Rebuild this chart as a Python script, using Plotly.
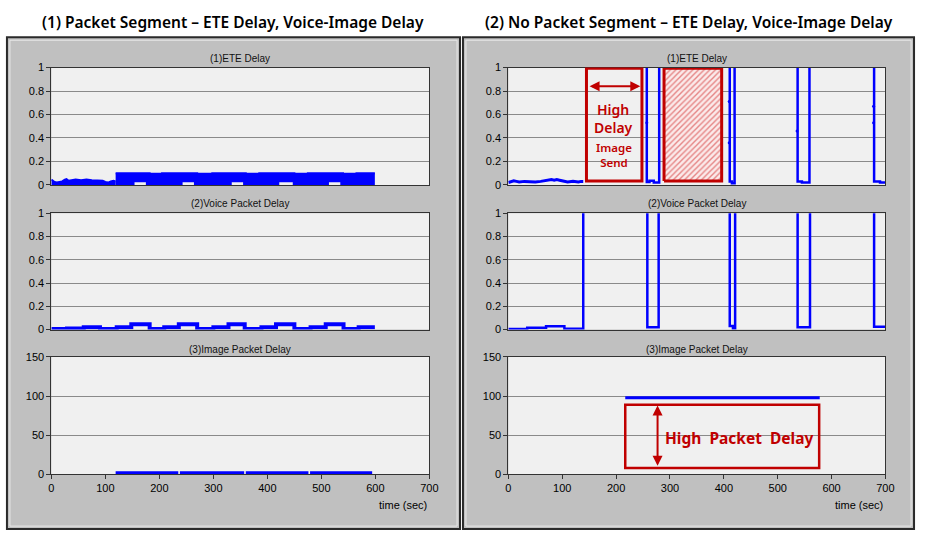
import plotly.graph_objects as go

# ---------------- data ----------------
HIGH = 10.0  # off-scale delay value (clipped at top of the 0-1 axis)

# (1) Packet Segment - ETE delay: noisy start
p_ete_t0 = [0, 3, 6, 10, 15, 20, 25, 28, 32, 38, 45, 55, 65, 75, 85, 95, 100, 105, 110, 115, 119]
p_ete_v0 = [0.045, 0.035, 0.025, 0.02, 0.025, 0.03, 0.045, 0.05, 0.035, 0.04, 0.045, 0.04,
            0.045, 0.04, 0.04, 0.035, 0.025, 0.02, 0.03, 0.035, 0.03]
# ETE dense band (upper / lower envelope)
p_band_t = [119, 154, 175, 182, 205, 243, 264, 270, 298, 334, 355, 360, 385, 422, 447, 450,
            475, 514, 535, 540, 565, 599]
p_band_hi = [0.1, 0.1, 0.1, 0.095, 0.1, 0.1, 0.1, 0.095, 0.1, 0.1, 0.1, 0.095, 0.1, 0.1, 0.1,
             0.095, 0.1, 0.1, 0.1, 0.095, 0.1, 0.1]
p_band_lo = [0, 0.022, 0, 0, 0, 0.022, 0, 0, 0, 0.022, 0, 0, 0, 0.022, 0, 0, 0, 0.022, 0, 0, 0, 0]
# voice delay (steps)
p_voice_t = [0, 29, 60, 90, 121, 148, 182, 209, 236, 270, 300, 328, 358, 389, 416, 450, 480,
             508, 541, 569, 599]
p_voice_v = [0.005, 0.01, 0.02, 0.005, 0.02, 0.045, 0.005, 0.02, 0.045, 0.005, 0.02, 0.045,
             0.005, 0.02, 0.045, 0.005, 0.02, 0.045, 0.005, 0.02, 0.02]
# image delay
p_img_t = [119, 235, None, 238, 357, None, 360, 476, None, 479, 594]
p_img_v = [2, 2, None, 2, 2, None, 2, 2, None, 2, 2]

# (2) No Packet Segment - ETE delay
n_ete_t0 = [0, 5, 10, 15, 20, 30, 40, 50, 60, 70, 75, 80, 85, 90, 95, 100, 110, 120, 130, 135, 139]
n_ete_v0 = [0.02, 0.03, 0.035, 0.03, 0.025, 0.03, 0.025, 0.025, 0.03, 0.035, 0.04, 0.045, 0.04,
            0.045, 0.04, 0.035, 0.025, 0.03, 0.025, 0.03, 0.03]
n_ete_t = [139, 257, 262, 270, 280, 411, 415, 420, 537, 545, 559, 679, 690, 700]
n_ete_v = [HIGH, 0.025, 0.035, 0.02, HIGH, 0.03, 0.015, HIGH, 0.03, 0.02, HIGH, 0.03, 0.02, 0.02]
n_ete_pt_t = [257, 410, 410, 536, 678, 678]
n_ete_pt_v = [0.53, 0.71, 0.36, 0.46, 0.67, 0.53]
# voice
n_voice_t = [0, 35, 70, 104, 139, 258, 279, 411, 417, 421, 537, 560, 679, 700]
n_voice_v = [0.005, 0.015, 0.028, 0.008, HIGH, 0.02, HIGH, 0.03, 0.01, HIGH, 0.02, HIGH, 0.025, 0.025]
# image
n_img_t = [217, 578]
n_img_v = [98, 98]

x_ticks = [0, 100, 200, 300, 400, 500, 600, 700]
sub_titles = ["(1)ETE Delay", "(2)Voice Packet Delay", "(3)Image Packet Delay"]
main_titles = ["(1) Packet Segment \u2013 ETE Delay, Voice-Image Delay",
               "(2) No Packet Segment \u2013 ETE Delay, Voice-Image Delay"]

# ---------------- figure ----------------
W, H = 926, 536
BLUE = "#0000ff"
RED = "#c00000"

def px(x):
    return x / W

def py(y):
    return 1 - y / H

xdom = [[px(49), px(432)], [px(512), px(894)]]
ydom = [[py(183), py(63)], [py(331), py(212)], [py(479), py(359)]]
title_y = [54, 202, 351]

fig = go.Figure()

def ax(n):
    return ("x" if n == 1 else f"x{n}"), ("y" if n == 1 else f"y{n}")

# left panel traces
xa, ya = ax(1)
fig.add_trace(go.Scatter(x=p_ete_t0, y=p_ete_v0, mode="lines", fill="tozeroy",
                         line=dict(color=BLUE, width=2), fillcolor=BLUE, xaxis=xa, yaxis=ya))
fig.add_trace(go.Scatter(x=p_band_t, y=p_band_lo, mode="lines", line=dict(color=BLUE, width=0, shape="hv"),
                         xaxis=xa, yaxis=ya))
fig.add_trace(go.Scatter(x=p_band_t, y=p_band_hi, mode="lines", fill="tonexty", fillcolor=BLUE,
                         line=dict(color=BLUE, width=2, shape="hv"), xaxis=xa, yaxis=ya))
xa, ya = ax(2)
fig.add_trace(go.Scatter(x=p_voice_t, y=p_voice_v, mode="lines",
                         line=dict(color=BLUE, width=4, shape="hv"), xaxis=xa, yaxis=ya))
xa, ya = ax(3)
fig.add_trace(go.Scatter(x=p_img_t, y=p_img_v, mode="lines",
                         line=dict(color=BLUE, width=3), xaxis=xa, yaxis=ya))

# right panel traces
xa, ya = ax(4)
fig.add_trace(go.Scatter(x=n_ete_t0, y=n_ete_v0, mode="lines", line=dict(color=BLUE, width=3),
                         xaxis=xa, yaxis=ya))
fig.add_trace(go.Scatter(x=n_ete_t, y=n_ete_v, mode="lines", line=dict(color=BLUE, width=2.5, shape="hv"),
                         xaxis=xa, yaxis=ya))
fig.add_trace(go.Scatter(x=n_ete_pt_t, y=n_ete_pt_v, mode="markers", marker=dict(color=BLUE, size=3),
                         xaxis=xa, yaxis=ya))
xa, ya = ax(5)
fig.add_trace(go.Scatter(x=n_voice_t, y=n_voice_v, mode="lines", line=dict(color=BLUE, width=2.5, shape="hv"),
                         xaxis=xa, yaxis=ya))
xa, ya = ax(6)
fig.add_trace(go.Scatter(x=n_img_t, y=n_img_v, mode="lines", line=dict(color=BLUE, width=3),
                         xaxis=xa, yaxis=ya))

# hatched rectangle (image-send interval)
xa, ya = ax(4)
fig.add_trace(go.Scatter(x=[289, 396, 396, 289, 289], y=[0.034, 0.034, 0.995, 0.995, 0.034],
                         mode="lines", fill="toself", line=dict(color=RED, width=3),
                         fillcolor="rgba(0,0,0,0)",
                         fillpattern=dict(shape="/", fgcolor="#d02020", bgcolor="#fbeaea", size=4, solidity=0.35),
                         xaxis=xa, yaxis=ya))

font_axis = dict(family="Liberation Sans, Arial", size=11, color="#000")
layout = dict(width=W, height=H, margin=dict(l=0, r=0, t=0, b=0),
              paper_bgcolor="white", plot_bgcolor="rgba(0,0,0,0)", showlegend=False)

for p in range(2):
    for r in range(3):
        n = p * 3 + r + 1
        kx = "xaxis" if n == 1 else f"xaxis{n}"
        ky = "yaxis" if n == 1 else f"yaxis{n}"
        bottom = (r == 2)
        layout[kx] = dict(domain=xdom[p], range=[0, 700], anchor=ax(n)[1],
                          tickvals=x_ticks, showticklabels=bottom, ticks="outside" if bottom else "",
                          ticklen=4, tickcolor="#333", showgrid=False, zeroline=False,
                          showline=True, linecolor="#333", linewidth=1, mirror=True,
                          tickfont=font_axis, fixedrange=True)
        if r < 2:
            yd = dict(range=[0, 1], tickvals=[0, 0.2, 0.4, 0.6, 0.8, 1],
                      ticktext=["0", "0.2", "0.4", "0.6", "0.8", "1"])
        else:
            yd = dict(range=[0, 150], tickvals=[0, 50, 100, 150],
                      ticktext=["0", "50", "100", "150"])
        layout[ky] = dict(domain=ydom[r], anchor=ax(n)[0], ticks="outside", ticklen=4,
                          tickcolor="#333", showgrid=True, gridcolor="#8a8a8a", gridwidth=1,
                          zeroline=False, showline=True, linecolor="#333", linewidth=1, mirror=True,
                          tickfont=font_axis, fixedrange=True, **yd)

shapes = []
# panel frames
for x0, x1 in [(4, 463), (466, 923)]:
    shapes.append(dict(type="rect", xref="paper", yref="paper", x0=px(x0), x1=px(x1),
                       y0=py(535), y1=py(32), fillcolor="#c0c0c0",
                       line=dict(color="#2a2a2a", width=2), layer="below"))
    shapes.append(dict(type="rect", xref="paper", yref="paper", x0=px(x0 + 3), x1=px(x1 - 3),
                       y0=py(532), y1=py(35), fillcolor="rgba(0,0,0,0)",
                       line=dict(color="#e8e8e8", width=1), layer="below"))
# plot backgrounds
for n in range(1, 7):
    xa, ya = ax(n)
    shapes.append(dict(type="rect", xref=f"{xa} domain", yref=f"{ya} domain", x0=0, x1=1, y0=0, y1=1,
                       fillcolor="#f0f0f0", line=dict(width=0), layer="below"))
# red annotation boxes
shapes.append(dict(type="rect", xref="x4", yref="y4", x0=145, x1=248, y0=0.034, y1=0.995,
                   line=dict(color=RED, width=3), fillcolor="rgba(0,0,0,0)"))
shapes.append(dict(type="rect", xref="x6", yref="y6", x0=217, x1=577, y0=8, y1=89,
                   line=dict(color=RED, width=2.5), fillcolor="rgba(0,0,0,0)"))
layout["shapes"] = shapes

ann = []
for p in range(2):
    cx = (xdom[p][0] + xdom[p][1]) / 2
    for r in range(3):
        ann.append(dict(xref="paper", yref="paper", x=cx, y=py(title_y[r]), text=sub_titles[r],
                        showarrow=False, font=dict(family="Liberation Sans, Arial", size=10, color="#111"),
                        xanchor="center", yanchor="middle"))
    ann.append(dict(xref="paper", yref="paper", x=xdom[p][1], y=py(510), text="time (sec)",
                    showarrow=False, font=dict(family="Liberation Sans, Arial", size=11, color="#000"),
                    xanchor="right", yanchor="middle"))
ann.append(dict(xref="paper", yref="paper", x=px(233), y=py(16), text=main_titles[0], showarrow=False,
                font=dict(family="Noto Sans", size=15.5, color="#000", weight=600),
                xanchor="center", yanchor="middle"))
ann.append(dict(xref="paper", yref="paper", x=px(695), y=py(16), text=main_titles[1], showarrow=False,
                font=dict(family="Noto Sans", size=15.5, color="#000", weight=600),
                xanchor="center", yanchor="middle"))
# red labels
ann.append(dict(xref="x4", yref="y4", x=196, y=0.57, text="High<br>Delay", showarrow=False,
                font=dict(family="Noto Sans", size=14, color=RED, weight=600), align="center"))
ann.append(dict(xref="x4", yref="y4", x=196, y=0.255, text="Image<br>Send", showarrow=False,
                font=dict(family="Noto Sans", size=11.5, color=RED, weight=600), align="center"))
ann.append(dict(xref="x4", yref="y4", axref="x4", ayref="y4", x=245, y=0.84, ax=148, ay=0.84,
                text="", showarrow=True, arrowhead=2, arrowside="end+start", arrowsize=1,
                arrowwidth=2, arrowcolor=RED))
ann.append(dict(xref="x6", yref="y6", axref="x6", ayref="y6", x=277, y=88, ax=277, ay=9,
                text="", showarrow=True, arrowhead=2, arrowside="end+start", arrowsize=1,
                arrowwidth=2, arrowcolor=RED))
ann.append(dict(xref="x6", yref="y6", x=428, y=47, text="High  Packet  Delay", showarrow=False,
                font=dict(family="Noto Sans", size=15.5, color=RED, weight=700)))
layout["annotations"] = ann

fig.update_layout(**layout)
fig.write_html("out.html", config={"displayModeBar": False},
               post_script="document.body.style.margin='0';document.body.style.overflow='hidden';")
